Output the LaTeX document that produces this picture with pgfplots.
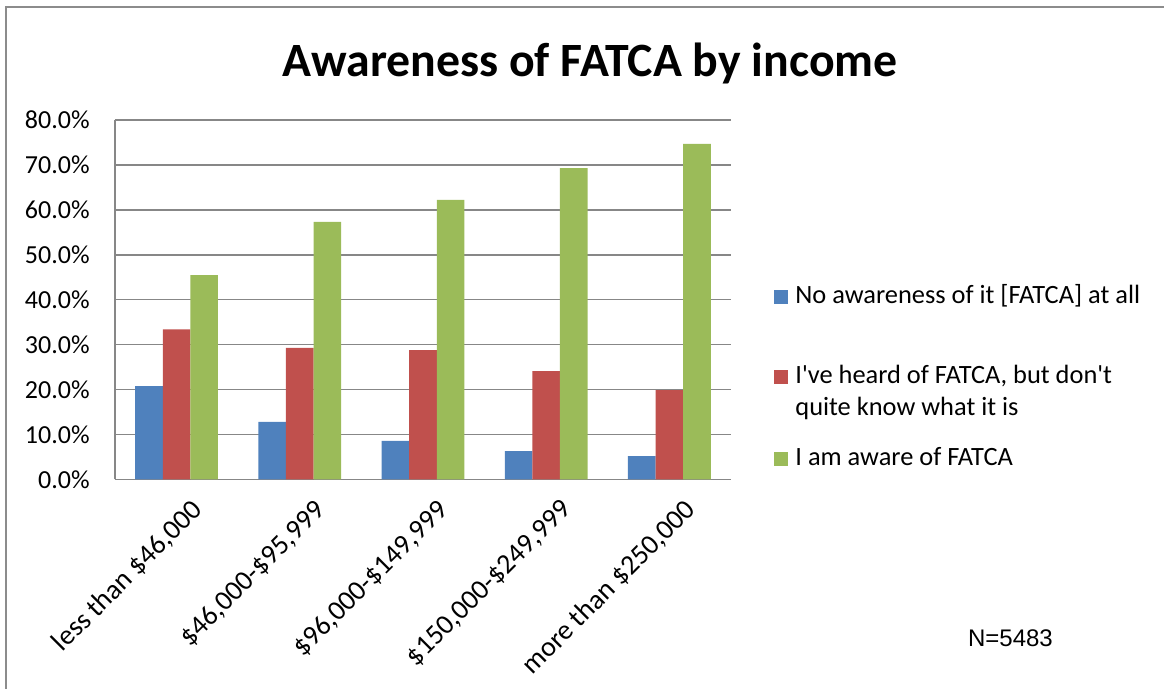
\documentclass[border=0pt]{standalone}
\usepackage{pgfplots}
\pgfplotsset{compat=1.18}
\usepackage{fontspec}
\setmainfont{Carlito}
\newfontfamily\arialfont{Liberation Sans}

\definecolor{bblue}{HTML}{4F81BD}
\definecolor{rred}{HTML}{C0504D}
\definecolor{ggreen}{HTML}{9BBB59}
\definecolor{ggrid}{HTML}{878787}
\definecolor{gborder}{HTML}{8C8C8C}

\pgfplotsset{
    sqleg/.style={legend image code/.code={
        \fill[##1,draw=none] (0pt,0pt) rectangle (7pt,7pt);
        \path (10.5pt,0pt);}},
}

\begin{document}
\begin{tikzpicture}
    \path[use as bounding box] (0,0) rectangle (582pt,344.5pt);
    % outer frame (only top and left edges show)
    \draw[gborder, line width=1.25pt] (3.1pt,0pt) -- (3.1pt,341pt) -- (582pt,341pt);

    \node[font=\fontsize{23.9}{28}\selectfont\bfseries, anchor=base]
        at (295pt,306.2pt) {Awareness of FATCA by income};

    \begin{axis}[
        at={(57.5pt,104.75pt)}, anchor=south west,
        scale only axis,
        width  = 308pt,
        height = 179.75pt,
        ybar=0pt,
        bar width=13.8pt,
        xmin=-0.5, xmax=4.5,
        ymin=0, ymax=80,
        xtick={0,1,2,3,4},
        xticklabels={{less than \$46,000}, {\$46,000-\$95,999}, {\$96,000-\$149,999},
                     {\$150,000-\$249,999}, {more than \$250,000}},
        ytick={0,10,20,30,40,50,60,70,80},
        yticklabels={0.0\%,10.0\%,20.0\%,30.0\%,40.0\%,50.0\%,60.0\%,70.0\%,80.0\%},
        axis x line*=bottom,
        axis y line*=left,
        axis line style={ggrid, line width=0.75pt},
        ymajorgrids = true,
        grid style={ggrid, line width=0.75pt},
        major tick length=0pt,
        tick style={draw=none},
        yticklabel style={font=\fontsize{13}{15}\selectfont, anchor=east, inner sep=0pt, xshift=-12.5pt},
        xticklabel style={font=\fontsize{14}{16}\selectfont, rotate=45, anchor=north east,
                          inner sep=0pt, xshift=-1.5pt, yshift=-11pt},
        legend style={
            at={(1.0698,0.5519)}, anchor=north west,
            draw=none, fill=none, inner sep=0pt, row sep=9pt,
            nodes={inner sep=0pt, text depth=},
            cells={anchor=base west},
            font=\fontsize{13.2}{16}\selectfont,
        },
    ]
        \addplot[fill=bblue, draw=none, sqleg]
            coordinates {(0,20.8) (1,12.8) (2,8.6) (3,6.3) (4,5.2)};
        \addplot[fill=rred, draw=none, sqleg]
            coordinates {(0,33.4) (1,29.3) (2,28.8) (3,24.1) (4,19.9)};
        \addplot[fill=ggreen, draw=none, sqleg]
            coordinates {(0,45.5) (1,57.3) (2,62.2) (3,69.3) (4,74.7)};

        \legend{\rule[-19.8pt]{0pt}{31pt}No awareness of it [FATCA] at all,
                {\begin{tabular}[t]{@{}l@{}}I\textquotesingle ve heard of FATCA, but don\textquotesingle t\\quite know what it is\end{tabular}},
                \strut I am aware of FATCA}
    \end{axis}

    \node[font=\arialfont\fontsize{12}{14}\selectfont, anchor=base west] at (480.5pt,21pt) {N=5483};
\end{tikzpicture}
\end{document}
